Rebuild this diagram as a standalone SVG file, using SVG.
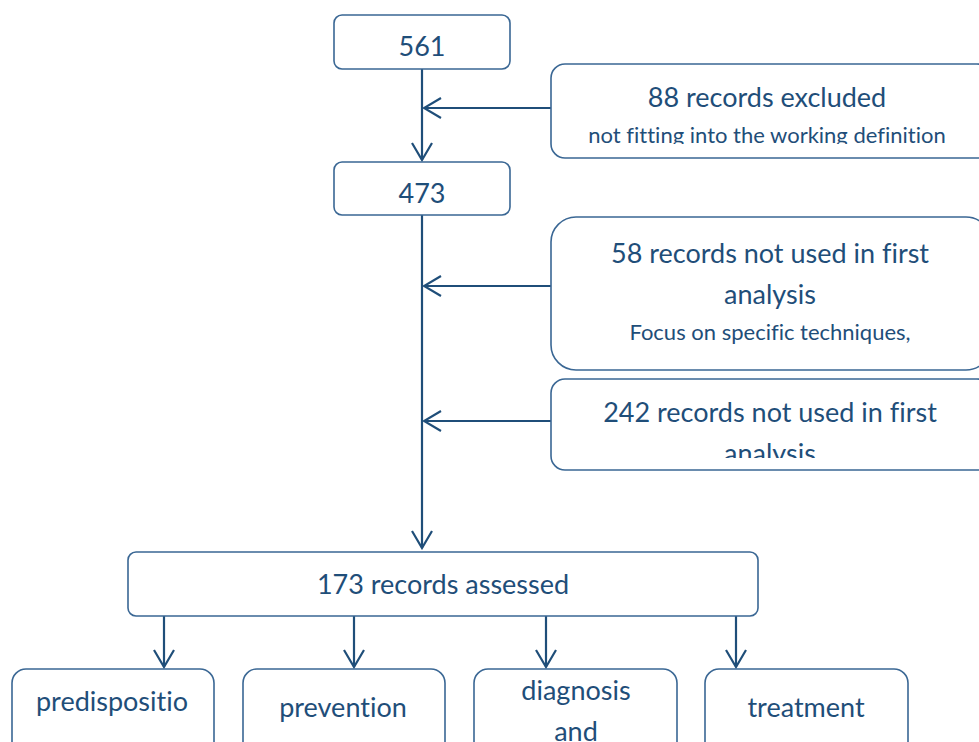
<svg xmlns="http://www.w3.org/2000/svg" width="979" height="742" viewBox="0 0 979 742">
<style>
.box{fill:#fff;stroke:#3A6794;stroke-width:1.6}
.ln{stroke:#1F4E79;stroke-width:2.2;fill:none}
text{font-family:Lato,"Open Sans",sans-serif;fill:#1F4E79;text-anchor:middle;font-variant-ligatures:none}
.big{font-size:27px}
.sm{font-size:22px}
</style>
<defs>
<marker id="ah" viewBox="0 0 20 24" refX="18" refY="12" markerWidth="20" markerHeight="24" markerUnits="userSpaceOnUse" orient="auto">
<path d="M1,2 L18,12 L1,22" fill="none" stroke="#1F4E79" stroke-width="2.2"/>
</marker>
<clipPath id="c88"><rect x="551" y="64" width="428" height="80"/></clipPath>
<clipPath id="c242"><rect x="551" y="379" width="428" height="79"/></clipPath>
</defs>
<rect width="979" height="742" fill="#fff"/>
<g id="connectors">
<line class="ln" x1="422" y1="69" x2="422" y2="160" marker-end="url(#ah)"/>
<line class="ln" x1="551" y1="108" x2="424" y2="108" marker-end="url(#ah)"/>
<line class="ln" x1="422" y1="215" x2="422" y2="548" marker-end="url(#ah)"/>
<line class="ln" x1="551" y1="286" x2="424" y2="286" marker-end="url(#ah)"/>
<line class="ln" x1="551" y1="421" x2="424" y2="421" marker-end="url(#ah)"/>
<line class="ln" x1="164" y1="616" x2="164" y2="667" marker-end="url(#ah)"/>
<line class="ln" x1="354" y1="616" x2="354" y2="667" marker-end="url(#ah)"/>
<line class="ln" x1="546" y1="616" x2="546" y2="667" marker-end="url(#ah)"/>
<line class="ln" x1="736" y1="616" x2="736" y2="667" marker-end="url(#ah)"/>
</g>
<g id="n561">
<rect class="box" x="334" y="15" width="176" height="54" rx="8"/>
<text class="big" x="422" y="56">561</text>
</g>
<g id="n473">
<rect class="box" x="334" y="162" width="176" height="53" rx="8"/>
<text class="big" x="422" y="203">473</text>
</g>
<g id="n88">
<rect class="box" x="551" y="64" width="440" height="94" rx="14"/>
<g clip-path="url(#c88)">
<text class="big" x="767" y="107">88 records excluded</text>
<text class="sm" x="767" y="143">not fitting into the working definition</text>
</g>
</g>
<g id="n58">
<rect class="box" x="551" y="217" width="440" height="153" rx="25"/>
<text class="big" x="770" y="263">58 records not used in first</text>
<text class="big" x="770" y="304">analysis</text>
<text class="sm" x="770" y="340">Focus on specific techniques,</text>
</g>
<g id="n242">
<rect class="box" x="551" y="379" width="440" height="91" rx="14"/>
<g clip-path="url(#c242)">
<text class="big" x="770" y="422">242 records not used in first</text>
<text class="big" x="770" y="463">analysis</text>
</g>
</g>
<g id="n173">
<rect class="box" x="128" y="552" width="630" height="64" rx="8"/>
<text class="big" x="443" y="594">173 records assessed</text>
</g>
<g id="npre">
<rect class="box" x="12" y="669" width="202" height="90" rx="14"/>
<text class="big" x="112" y="711">predispositio</text>
</g>
<g id="nprev">
<rect class="box" x="243" y="669" width="202" height="90" rx="14"/>
<text class="big" x="343" y="717">prevention</text>
</g>
<g id="ndiag">
<rect class="box" x="474" y="669" width="203" height="90" rx="14"/>
<text class="big" x="576" y="700">diagnosis</text>
<text class="big" x="576" y="741">and</text>
</g>
<g id="ntreat">
<rect class="box" x="705" y="669" width="203" height="90" rx="14"/>
<text class="big" x="806" y="717">treatment</text>
</g>
</svg>
